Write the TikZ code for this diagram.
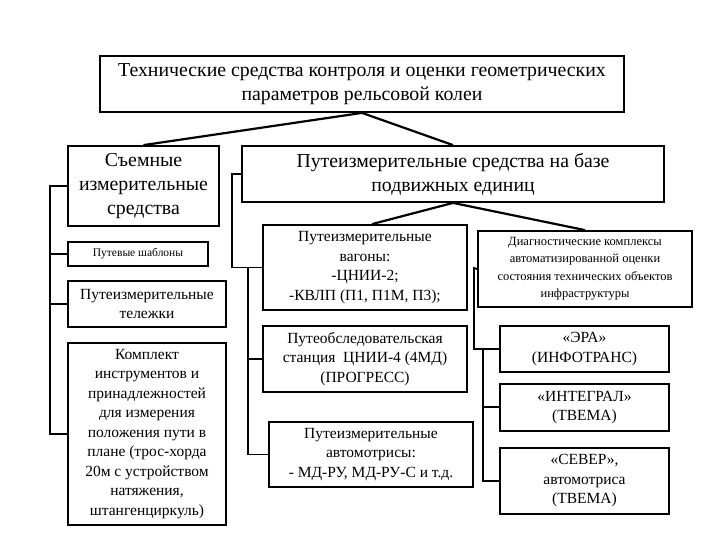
\documentclass[tikz,border=0pt]{standalone}
\usepackage{fontspec}
\setmainfont{Liberation Serif}
\usetikzlibrary{positioning}

\begin{document}
\begin{tikzpicture}[
            x=1pt, y=-1pt,
            block/.style={rectangle, draw=black, line width=1.8pt, inner sep=2pt, align=center},
            big_text/.style={font=\fontsize{19.8}{24}\selectfont},
            mid_text/.style={font=\fontsize{15.5}{19.5}\selectfont},
            small_text/.style={font=\fontsize{12.5}{17.5}\selectfont},
            tiny_text/.style={font=\fontsize{11.5}{12}\selectfont},
            link/.style={line width=2.2pt, black},
            tree_line/.style={line width=1.8pt, black}
        ]
        \useasboundingbox (0,0) rectangle (720,540);
        
        % Root
        \node[block, big_text, minimum width=524pt, minimum height=56pt] (root) at (362,84)
            {Технические средства контроля и оценки геометрических\\ параметров рельсовой колеи};
        
        % Two main groups
        \node[block, big_text, minimum width=151pt, minimum height=80pt] (removable) at (143.5,186)
            {Съемные\\ измерительные\\ средства};
        \node[block, big_text, minimum width=422pt, minimum height=56pt] (mobile) at (453,174)
            {Путеизмерительные средства на базе\\ подвижных единиц};
        
        % Removable devices
        \node[block, tiny_text, minimum width=140pt, minimum height=24pt] (templates) at (138,254) {Путевые шаблоны};
        \node[block, mid_text, minimum width=158pt, minimum height=46pt] (trolleys) at (147,304)
            {Путеизмерительные\\ тележки};
        \node[block, mid_text, minimum width=158pt, minimum height=182pt] (kit) at (147,434)
            {Комплект\\ инструментов и\\ принадлежностей\\ для измерения\\ положения пути в\\ плане (трос-хорда\\ 20м с устройством\\ натяжения,\\ штангенциркуль)};
        
        % Mobile units
        \node[block, mid_text, minimum width=204pt, minimum height=85pt] (wagons) at (365,267.5)
            {Путеизмерительные\\ вагоны:\\ -ЦНИИ-2;\\ -КВЛП (П1, П1М, П3);};
        \node[block, mid_text, minimum width=204pt, minimum height=66pt] (station) at (365,359)
            {Путеобследовательская\\ станция\ \ ЦНИИ-4 (4МД)\\ (ПРОГРЕСС)};
        \node[block, mid_text, minimum width=204pt, minimum height=65pt] (railcars) at (371,454.5)
            {Путеизмерительные\\ автомотрисы:\\ - МД-РУ, МД-РУ-С и т.д.};
        
        % Diagnostic complexes
        \node[block, small_text, minimum width=214pt, minimum height=76pt] (diag) at (585,269)
            {Диагностические комплексы\\ автоматизированной оценки\\ состояния технических объектов\\ инфраструктуры};
        \node[block, mid_text, minimum width=169pt, minimum height=46pt] (era) at (584.5,349)
            {«ЭРА»\\ (ИНФОТРАНС)};
        \node[block, mid_text, minimum width=169pt, minimum height=47pt, below=10pt of era] (integral)
            {«ИНТЕГРАЛ»\\ (ТВЕМА)};
        \node[block, mid_text, minimum width=169pt, minimum height=66pt, below=15pt of integral] (sever)
            {«СЕВЕР»,\\ автомотриса\\ (ТВЕМА)};
        
        % Slanted links
        \draw[link] (root.south) -- (removable.north);
        \draw[link] (root.south) -- (mobile.north);
        \draw[link] (mobile.south) -- ([xshift=7pt]wagons.north);
        \draw[link] (mobile.south) -- (diag.north);
        
        % Left tree
        \coordinate (l_top) at (50,186);
        \coordinate (l_bot) at (50,434);
        \draw[tree_line] (removable.west) -- (l_top) -- (l_bot) -- (kit.west);
        \draw[tree_line] (templates.west) -- (templates.west -| l_top);
        \draw[tree_line] (trolleys.west) -- (trolleys.west -| l_top);
        
        % Middle tree
        \coordinate (m_turn) at (232,174);
        \coordinate (m_top) at (248,267.5);
        \draw[tree_line] (mobile.west) -- (m_turn) -- (m_turn |- wagons.west) -- (wagons.west);
        \draw[tree_line] (m_top) -- (m_top |- railcars.west) -- (railcars.west);
        \draw[tree_line] (station.west) -- (station.west -| m_top);
        
        % Right tree
        \coordinate (r_turn) at (474,268);
        \coordinate (r_top) at (483,349);
        \draw[tree_line] (diag.west) -- (r_turn) -- (r_turn |- era.west) -- (era.west);
        \draw[tree_line] (r_top) -- (r_top |- sever.west) -- (sever.west);
        \draw[tree_line] (integral.west) -- (integral.west -| r_top);
        
    \end{tikzpicture}
\end{document}
